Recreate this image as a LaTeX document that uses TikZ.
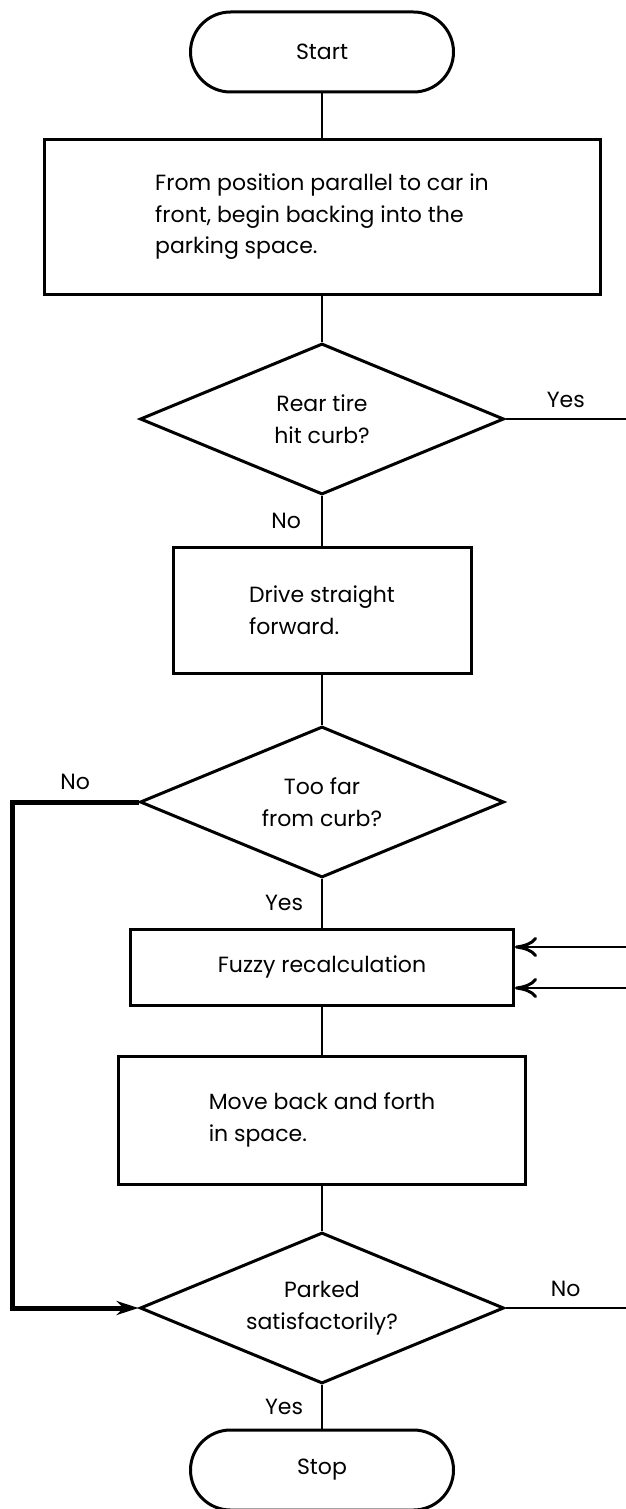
\documentclass[tikz,border=0pt]{standalone}
\usepackage{fontspec}
\setmainfont{Poppins}
\usetikzlibrary{shapes.geometric,arrows.meta}

\begin{document}
\begin{tikzpicture}[x=1pt,y=-1pt,
    every node/.style={font=\fontsize{22}{31.5}\selectfont},
    term/.style={draw,line width=3pt,rounded corners=40pt,minimum width=263pt,minimum height=80pt},
    box/.style={draw,line width=3pt,align=left,inner sep=0pt},
    dec/.style={draw,diamond,aspect=2.4,line width=3pt,align=center,minimum width=364pt,minimum height=151pt,inner sep=0pt},
    flow/.style={line width=2pt},
    loopline/.style={line width=5pt},
    lbl/.style={inner sep=0pt}]
    
    \useasboundingbox (0,0) rectangle (626,1509);   %page size of the scan.
    
    % Main axis of the chart
    \def\mx{322}        %x of every block.
    
    % Blocks
    \node[term] (start) at (\mx,52) {Start};
    \node[box,minimum width=556pt,minimum height=155pt] (begin) at (\mx,217) {From position parallel to car in\\front, begin backing into the\\parking space.};
    \node[dec] (tire) at (\mx,419) {Rear tire\\hit curb?};
    \node[box,minimum width=298pt,minimum height=126pt] (drive) at (\mx,610) {Drive straight\\forward.};
    \node[dec] (far) at (\mx,802) {Too far\\from curb?};
    \node[box,minimum width=383pt,minimum height=76pt] (fuzzy) at (\mx,967) {Fuzzy recalculation};
    \node[box,minimum width=407pt,minimum height=128pt] (move) at (\mx,1120) {Move back and forth\\in space.};
    \node[dec] (parked) at (\mx,1308) {Parked\\satisfactorily?};
    \node[term] (stop) at (\mx,1470) {Stop};
    
    % Define coordinates.
    \coordinate (yesout) at (626,419);   %leaves the page.
    \coordinate (noout) at (626,1308);   %leaves the page.
    \coordinate (fuzinA) at (626,947);
    \coordinate (fuzinB) at (626,988);
    \coordinate (loop) at (12,802);      %corner of the thick return line.
    
    % Connectors
    \draw[flow] (start) -- (begin);
    \draw[flow] (begin) -- (tire);
    \draw[flow] (tire) -- node[lbl,left=20pt] (notire) {No} (drive);
    \draw[flow] (tire.east) -- node[lbl,above=10pt] (yestire) {Yes} (yesout);
    \draw[flow] (drive) -- (far);
    \draw[flow] (far) -- node[lbl,left=18pt] (yesfar) {Yes} (fuzzy);
    \draw[loopline,-{Stealth[length=22pt,width=14pt]}] (far.west) -- node[lbl,above=10pt] (nofar) {No} (loop) |- (parked.west);
    \draw[flow,-{Computer Modern Rightarrow[length=22pt,width=20pt,line width=3pt]}] (fuzinA) -- (fuzinA -| fuzzy.east);
    \draw[flow,-{Computer Modern Rightarrow[length=22pt,width=20pt,line width=3pt]}] (fuzinB) -- (fuzinB -| fuzzy.east);
    \draw[flow] (fuzzy) -- (move);
    \draw[flow] (move) -- (parked);
    \draw[flow] (parked.east) -- node[lbl,above=10pt] (noparked) {No} (noout);
    \draw[flow] (parked) -- node[lbl,left=18pt] (yesparked) {Yes} (stop);
\end{tikzpicture}
\end{document}
